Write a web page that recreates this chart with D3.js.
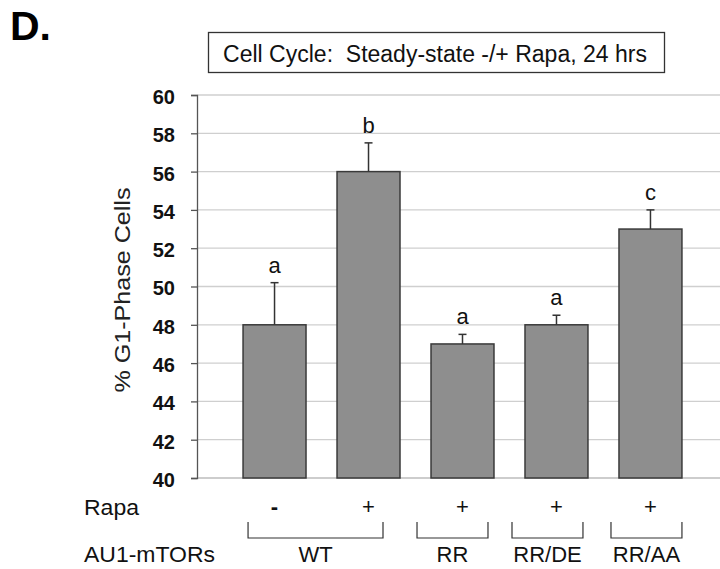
<!DOCTYPE html>
<html><head><meta charset="utf-8">
<script src="https://cdn.jsdelivr.net/npm/d3@7"></script>
<style>body{margin:0;background:#fff}svg{display:block;font-family:"Liberation Sans",Arial,sans-serif}</style>
</head><body><svg id="c" width="720" height="569"></svg>
<script>
const categories = ["WT -", "WT +", "RR +", "RR/DE +", "RR/AA +"];
const rapaLabels = ["-", "+", "+", "+", "+"];
const values = [48, 56, 47, 48, 53];
const errors = [2.2, 1.5, 0.5, 0.5, 1.0];
const sigLetters = ["a", "b", "a", "a", "c"];
const yTicks = [40, 42, 44, 46, 48, 50, 52, 54, 56, 58, 60];
const groupNames = ["WT", "RR", "RR/DE", "RR/AA"];
const groupMembers = [["WT -", "WT +"], ["RR +"], ["RR/DE +"], ["RR/AA +"]];
const title = "Cell Cycle:  Steady-state -/+ Rapa, 24 hrs";
const yLabel = "% G1-Phase Cells";

const svg = d3.select("#c");
const x = d3.scaleBand().domain(categories).range([197, 728]).paddingInner(0.33).paddingOuter(0.49);
const y = d3.scaleLinear().domain([40, 60]).range([478, 95]);

// gridlines
svg.append("g").selectAll("line").data(yTicks.slice(1)).join("line")
  .attr("x1", 197).attr("x2", 720).attr("y1", d => y(d)).attr("y2", d => y(d))
  .attr("stroke", "#cfcfcf").attr("stroke-width", 1.3);
svg.append("line").attr("x1",197).attr("x2",720).attr("y1",y(40)).attr("y2",y(40)).attr("stroke","#bdbdbd").attr("stroke-width",1.3);

// y axis
const ax = svg.append("g").attr("transform", "translate(197,0)")
  .call(d3.axisLeft(y).tickValues(yTicks).tickSize(6).tickPadding(16).tickFormat(d3.format("d")));
ax.select(".domain").attr("stroke", "#555").attr("stroke-width", 1.3);
ax.selectAll(".tick line").attr("stroke", "#555").attr("stroke-width", 1.3);
ax.selectAll("text").attr("font-size", 20).attr("font-weight", "bold").attr("fill", "#111")
  .attr("dy", "0.42em")
  .attr("font-family", "Liberation Sans, Arial, sans-serif");

// bars
svg.append("g").selectAll("rect").data(values).join("rect")
  .attr("x", (d, i) => x(categories[i])).attr("width", x.bandwidth())
  .attr("y", d => y(d)).attr("height", d => y(40) - y(d))
  .attr("fill", "#8e8e8e").attr("stroke", "#3a3a3a").attr("stroke-width", 1.5);

// error bars
const eg = svg.append("g").attr("stroke", "#333").attr("stroke-width", 1.5);
values.forEach((v, i) => {
  const cx = x(categories[i]) + x.bandwidth() / 2;
  eg.append("line").attr("x1", cx).attr("x2", cx).attr("y1", y(v)).attr("y2", y(v + errors[i]));
  eg.append("line").attr("x1", cx - 4).attr("x2", cx + 4).attr("y1", y(v + errors[i])).attr("y2", y(v + errors[i]));
});

// letters
svg.append("g").selectAll("text").data(sigLetters).join("text")
  .attr("x", (d, i) => x(categories[i]) + x.bandwidth() / 2)
  .attr("y", (d, i) => y(values[i] + errors[i]) - 10)
  .attr("text-anchor", "middle").attr("font-size", 22).attr("fill", "#111").text(d => d);

// y label
svg.append("text").attr("transform", "translate(130,290) rotate(-90)")
  .attr("text-anchor", "middle").attr("font-size", 22).attr("fill", "#222")
  .attr("textLength", 205).attr("lengthAdjust", "spacingAndGlyphs").text(yLabel);

// title box
svg.append("rect").attr("x", 208.5).attr("y", 32.5).attr("width", 456).attr("height", 40)
  .attr("fill", "#fff").attr("stroke", "#333").attr("stroke-width", 1.3);
svg.append("text").attr("x", 435).attr("y", 62).attr("text-anchor", "middle")
  .attr("font-size", 23).attr("fill", "#111").style("white-space", "pre").text(title);

// panel letter
svg.append("text").attr("x", 10).attr("y", 40).attr("font-size", 41).attr("font-weight", "bold")
  .attr("fill", "#000").text("D.");

// Rapa row
svg.append("text").attr("x", 84).attr("y", 515).attr("font-size", 22).attr("fill", "#111")
  .attr("textLength", 55).attr("lengthAdjust", "spacingAndGlyphs").text("Rapa");
svg.append("g").selectAll("text").data(rapaLabels).join("text")
  .attr("x", (d, i) => x(categories[i]) + x.bandwidth() / 2).attr("y", 514)
  .attr("text-anchor", "middle").attr("font-size", 22).attr("font-weight", (d) => d === "-" ? "bold" : "normal")
  .attr("fill", "#111").text(d => d);

// brackets & group labels
svg.append("text").attr("x", 84).attr("y", 562).attr("font-size", 22).attr("fill", "#111")
  .attr("textLength", 131).attr("lengthAdjust", "spacingAndGlyphs").text("AU1-mTORs");
const bracketInsets = [[5, 17], [-14, 6], [-13, 5], [-8, 0]];
groupNames.forEach((name, gi) => {
  const xs = groupMembers[gi].map(m => x(m));
  const x0 = d3.min(xs) + bracketInsets[gi][0];
  const x1 = d3.max(xs) + x.bandwidth() - bracketInsets[gi][1];
  svg.append("path").attr("d", `M${x0},522 V538 H${x1} V522`)
    .attr("fill", "none").attr("stroke", "#333").attr("stroke-width", 1.2);
  svg.append("text").attr("x", (x0 + x1) / 2).attr("y", 562).attr("text-anchor", "middle")
    .attr("font-size", 22).attr("fill", "#111").text(name);
});
</script></body></html>
